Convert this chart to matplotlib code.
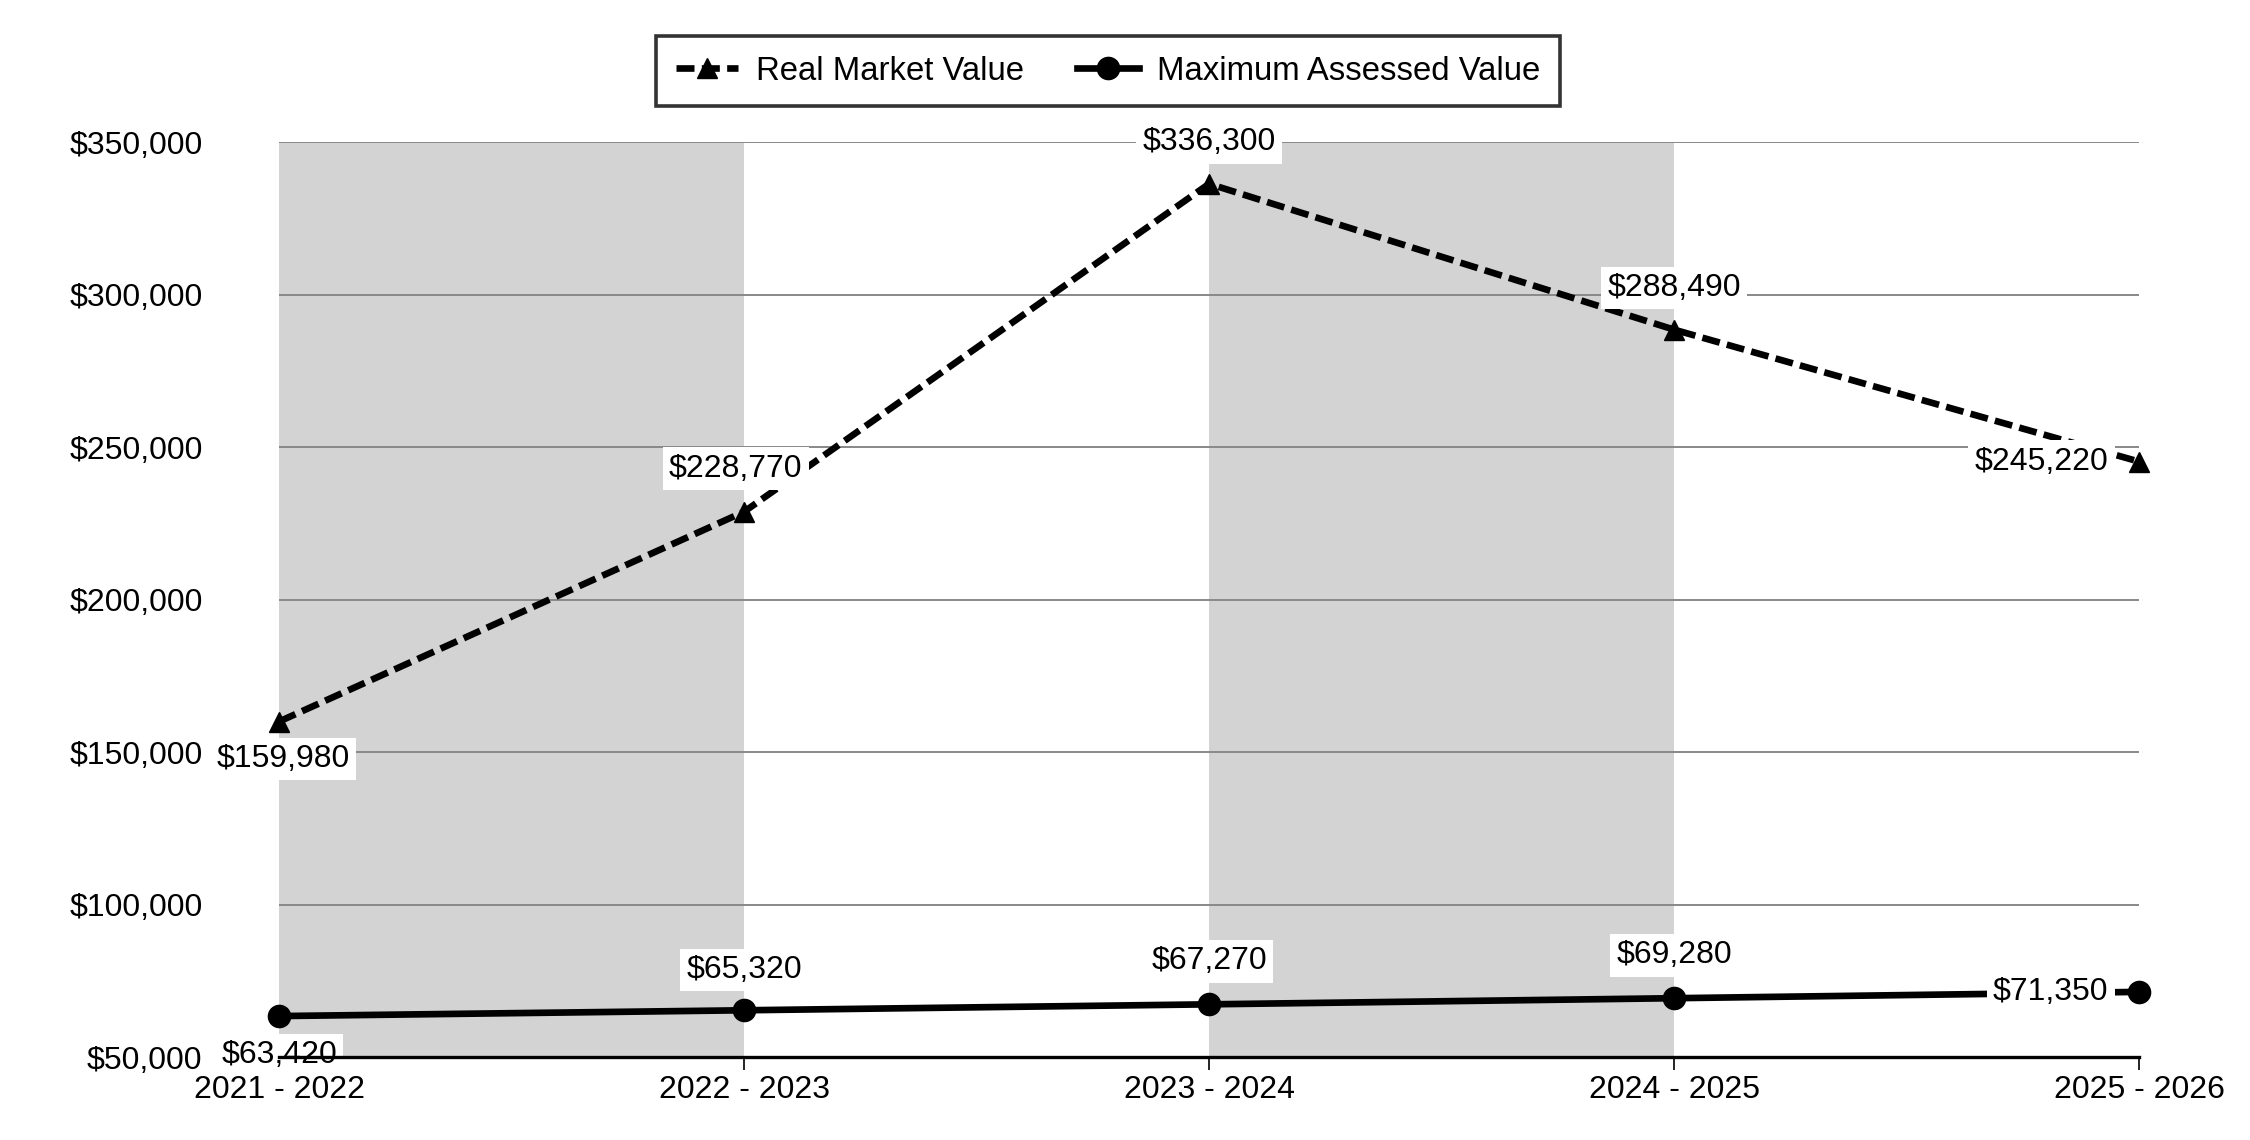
import matplotlib
matplotlib.use("Agg")
import matplotlib.pyplot as plt
from matplotlib.ticker import FuncFormatter, MultipleLocator


TAX_YEARS = ["2021 - 2022", "2022 - 2023", "2023 - 2024", "2024 - 2025", "2025 - 2026"]
REAL_MARKET_VALUE = [159980, 228770, 336300, 288490, 245220]
MAX_ASSESSED_VALUE = [63420, 65320, 67270, 69280, 71350]

# label placement (offset in points, horizontal alignment)
RMV_LABEL_POS = [(3, -27, "center"), (-6, 31, "center"), (0, 30, "center"),
                 (0, 30, "center"), (-22, 0, "right")]
MAV_LABEL_POS = [(0, -28, "center"), (0, 29, "center"), (0, 31, "center"),
                 (0, 31, "center"), (-22, 0, "right")]


def money(v, pos=None):
    return f"${v:,.0f}"


def add_labels(ax, xs, ys, positions):
    for x, y, (dx, dy, ha) in zip(xs, ys, positions):
        ax.annotate(money(y), (x, y), xytext=(dx, dy), textcoords="offset points",
                    ha=ha, va="center", fontsize=23, zorder=3,
                    bbox=dict(boxstyle="square,pad=0.2", fc="white", ec="none"))


plt.rcParams['font.family'] = ['Liberation Sans', 'DejaVu Sans']

fig = plt.figure(figsize=(22.5, 11.4), dpi=100)
ax = fig.add_axes([0.124, 0.0728, 0.8267, 0.8026])

xs = list(range(len(TAX_YEARS)))

# alternating shaded columns
for i in range(0, len(TAX_YEARS) - 1, 2):
    ax.axvspan(xs[i], xs[i + 1], color="#d3d3d3", lw=0, zorder=0)

ax.plot(xs, REAL_MARKET_VALUE, color="black", lw=4.8, ls=(0, (2.7, 1.1)),
        marker="^", markersize=15, clip_on=False, zorder=2,
        label="Real Market Value")
ax.plot(xs, MAX_ASSESSED_VALUE, color="black", lw=4.8, marker="o",
        markersize=16, clip_on=False, zorder=2, label="Maximum Assessed Value")

add_labels(ax, xs, REAL_MARKET_VALUE, RMV_LABEL_POS)
add_labels(ax, xs, MAX_ASSESSED_VALUE, MAV_LABEL_POS)

ax.set_xlim(0, len(TAX_YEARS) - 1)
ax.set_ylim(50000, 350000)
ax.yaxis.set_major_locator(MultipleLocator(50000))
ax.yaxis.set_major_formatter(FuncFormatter(money))
ax.set_xticks(xs)
ax.set_xticklabels(TAX_YEARS)

ax.set_axisbelow(True)
ax.grid(True, axis="y", color="#888888", lw=1.4)
ax.grid(False, axis="x")

for side in ["left", "top", "right"]:
    ax.spines[side].set_visible(False)
ax.spines["bottom"].set_linewidth(2.4)
ax.spines["bottom"].set_zorder(10)

ax.tick_params(axis="y", length=0, pad=55, labelsize=23)
ax.tick_params(axis="x", length=9, width=1.2, pad=4, labelsize=23)

leg = fig.legend(loc="center", bbox_to_anchor=(0.4925, 0.9377), ncol=2,
                 fontsize=23.7, frameon=True, fancybox=False, edgecolor="black",
                 handlelength=1.9, handletextpad=0.55, columnspacing=1.6,
                 borderpad=0.6)
leg.get_frame().set_linewidth(2.6)

fig.savefig("out.png", dpi=100)
